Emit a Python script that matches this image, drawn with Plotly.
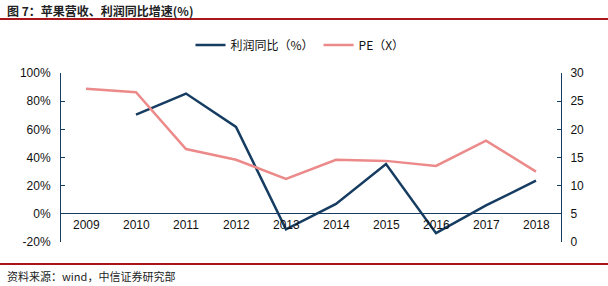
import plotly.graph_objects as go

years = ["2009", "2010", "2011", "2012", "2013", "2014", "2015", "2016", "2017", "2018"]
profit_yoy = [None, 70.5, 85.4, 61.7, -11.0, 7.0, 35.4, -13.7, 6.0, 23.5]
pe = [27.2, 26.6, 16.5, 14.6, 11.2, 14.6, 14.4, 13.5, 18.0, 12.5]
left_ticks = [-20, 0, 20, 40, 60, 80, 100]
left_labels = [f"{v}%" for v in left_ticks]
right_ticks = [0, 5, 10, 15, 20, 25, 30]

NAVY = "#163C61"
PINK = "#EC8A8A"
RED = "#A8161B"
NUM_FONT = "Liberation Sans, Arial"
CJK_FONT = "Noto Sans CJK SC"

fig = go.Figure()
fig.add_trace(go.Scatter(x=years, y=profit_yoy, name="利润同比（%）", mode="lines",
                         line=dict(color=NAVY, width=2.5), yaxis="y"))
fig.add_trace(go.Scatter(x=years, y=pe, name="PE（X）", mode="lines",
                         line=dict(color=PINK, width=2.5), yaxis="y2"))

# category labels placed just under the 0% line (category index positions)
for i, yr in enumerate(years):
    fig.add_annotation(x=i, y=0, xref="x", yref="y", text=yr, showarrow=False,
                       yanchor="top", yshift=-2, font=dict(family=NUM_FONT, size=12, color="#111"))

fig.update_layout(
    width=608, height=286,
    margin=dict(l=61, r=47, t=73, b=44),
    paper_bgcolor="white", plot_bgcolor="white",
    showlegend=True,
    legend=dict(orientation="h", x=0.478, xanchor="center", xref="paper",
                y=1 + (73 - 45) / 169, yanchor="middle",
                font=dict(family=CJK_FONT, size=12, color="#111"),
                itemwidth=30, tracegroupgap=0),
    xaxis=dict(type="category", categoryorder="array", categoryarray=years,
               range=[-0.5, 9.5], showticklabels=False,
               showline=False, showgrid=False, zeroline=False, ticks=""),
    yaxis=dict(range=[-20, 100], tickmode="array", tickvals=left_ticks, ticktext=left_labels,
               showgrid=False, zeroline=True, zerolinecolor=NAVY, zerolinewidth=1,
               showline=True, linecolor=NAVY, linewidth=1,
               ticks="inside", ticklen=4, tickcolor=NAVY, ticklabelstandoff=7,
               tickfont=dict(family=NUM_FONT, size=12, color="#111")),
    yaxis2=dict(range=[0, 30], tickmode="array", tickvals=right_ticks, overlaying="y", side="right",
                showgrid=False, zeroline=False,
                showline=True, linecolor=NAVY, linewidth=1,
                ticks="inside", ticklen=4, tickcolor=NAVY, ticklabelstandoff=6,
                tickfont=dict(family=NUM_FONT, size=12, color="#111")),
    shapes=[
        dict(type="line", xref="paper", yref="paper", x0=-61/500, x1=547/500,
             y0=1 + (73-19)/169, y1=1 + (73-19)/169, line=dict(color=RED, width=2)),
        dict(type="line", xref="paper", yref="paper", x0=-61/500, x1=547/500,
             y0=-(264-242)/169, y1=-(264-242)/169, line=dict(color=RED, width=2)),
    ],
)

fig.add_annotation(text="图 7：苹果营收、利润同比增速(%)", xref="paper", yref="paper",
                   x=-56/500, y=1 + (73-10)/169, xanchor="left", yanchor="middle",
                   showarrow=False, font=dict(family=CJK_FONT, size=12, color="#222", weight="bold"))
fig.add_annotation(text="资料来源：wind，中信证券研究部", xref="paper", yref="paper",
                   x=-56/500, y=-(276-242)/169, xanchor="left", yanchor="middle",
                   showarrow=False, font=dict(family=CJK_FONT, size=11, color="#222"))

fig.write_html("out.html")
